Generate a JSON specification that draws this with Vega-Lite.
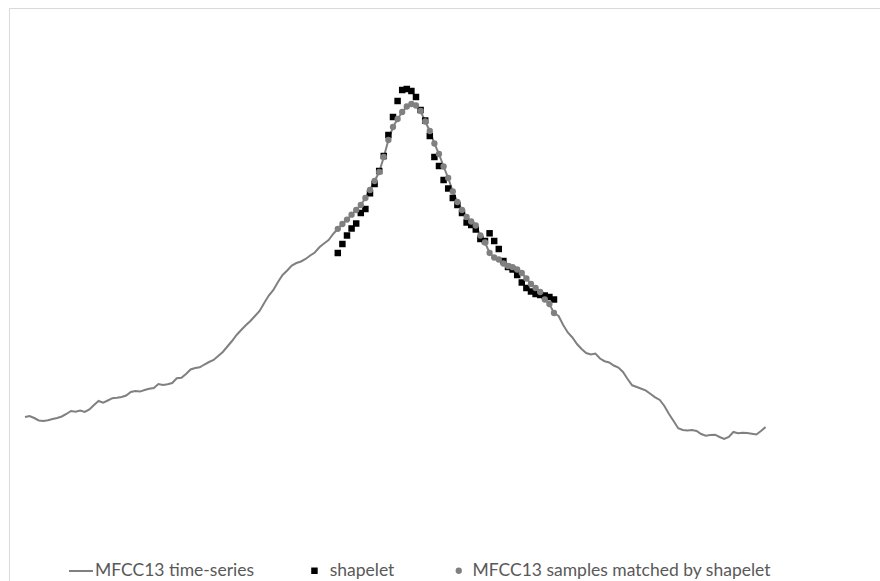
{
  "$schema": "https://vega.github.io/schema/vega-lite/v6.json",
  "width": 880,
  "height": 580,
  "autosize": {"type": "none"},
  "padding": {"left": 9, "top": 8, "right": 0, "bottom": 0},
  "background": "white",
  "config": {
    "view": {"stroke": "#d9d9d9", "strokeWidth": 1},
    "legend": {"labelFont": "Lato", "labelFontSize": 17.5, "labelColor": "#595959", "padding": 0, "offset": 0, "orient": "none", "direction": "horizontal", "labelLimit": 400}
  },
  "datasets": {
    "series": [
      {"t":0,"v":2.3},{"t":1,"v":2.4},{"t":2,"v":2.2},{"t":3,"v":1.95},{"t":4,"v":1.9},{"t":5,"v":1.98},{"t":6,"v":2.1},{"t":7,"v":2.2},{"t":8,"v":2.35},{"t":9,"v":2.6},
      {"t":10,"v":2.9},{"t":11,"v":2.83},{"t":12,"v":2.95},{"t":13,"v":2.8},{"t":14,"v":3.05},{"t":15,"v":3.5},{"t":16,"v":3.9},{"t":17,"v":3.73},{"t":18,"v":3.95},{"t":19,"v":4.18},
      {"t":20,"v":4.22},{"t":21,"v":4.3},{"t":22,"v":4.45},{"t":23,"v":4.8},{"t":24,"v":4.9},{"t":25,"v":4.84},{"t":26,"v":5.0},{"t":27,"v":5.13},{"t":28,"v":5.2},{"t":29,"v":5.6},
      {"t":30,"v":5.5},{"t":31,"v":5.58},{"t":32,"v":5.7},{"t":33,"v":6.17},{"t":34,"v":6.23},{"t":35,"v":6.6},{"t":36,"v":7.05},{"t":37,"v":7.2},{"t":38,"v":7.27},{"t":39,"v":7.55},
      {"t":40,"v":7.8},{"t":41,"v":8.0},{"t":42,"v":8.4},{"t":43,"v":8.8},{"t":44,"v":9.35},{"t":45,"v":9.9},{"t":46,"v":10.5},{"t":47,"v":11.0},{"t":48,"v":11.47},{"t":49,"v":11.9},
      {"t":50,"v":12.4},{"t":51,"v":12.9},{"t":52,"v":13.7},{"t":53,"v":14.45},{"t":54,"v":15.0},{"t":55,"v":15.8},{"t":56,"v":16.5},{"t":57,"v":16.95},{"t":58,"v":17.45},{"t":59,"v":17.7},
      {"t":60,"v":17.85},{"t":61,"v":18.1},{"t":62,"v":18.45},{"t":63,"v":18.75},{"t":64,"v":19.27},{"t":65,"v":19.65},{"t":66,"v":20.0},{"t":67,"v":20.6},
      {"t":68,"v":21.12},{"t":69,"v":21.6},{"t":70,"v":22.04},{"t":71,"v":22.53},{"t":72,"v":23.0},{"t":73,"v":23.5},{"t":74,"v":24.2},{"t":75,"v":25.0},{"t":76,"v":25.9},{"t":77,"v":26.8},
      {"t":78,"v":28.3},{"t":79,"v":30.0},{"t":80,"v":31.3},{"t":81,"v":32.1},{"t":82,"v":32.8},{"t":83,"v":33.35},{"t":84,"v":33.6},{"t":85,"v":33.45},{"t":86,"v":32.9},{"t":87,"v":31.85},
      {"t":88,"v":30.9},{"t":89,"v":29.65},{"t":90,"v":28.6},{"t":91,"v":27.35},{"t":92,"v":26.2},{"t":93,"v":24.85},{"t":94,"v":23.8},{"t":95,"v":23.0},{"t":96,"v":22.3},{"t":97,"v":21.85},
      {"t":98,"v":21.45},{"t":99,"v":20.45},{"t":100,"v":19.75},{"t":101,"v":18.7},{"t":102,"v":18.25},{"t":103,"v":18.05},{"t":104,"v":17.65},{"t":105,"v":17.4},{"t":106,"v":17.28},{"t":107,"v":17.05},
      {"t":108,"v":16.7},{"t":109,"v":16.15},{"t":110,"v":15.6},{"t":111,"v":15.2},{"t":112,"v":14.8},{"t":113,"v":14.05},{"t":114,"v":13.6},{"t":115,"v":12.7},
      {"t":116,"v":12.4},{"t":117,"v":11.5},{"t":118,"v":10.75},{"t":119,"v":10.25},{"t":120,"v":9.6},{"t":121,"v":9.1},{"t":122,"v":8.7},{"t":123,"v":8.55},{"t":124,"v":8.65},{"t":125,"v":8.15},
      {"t":126,"v":7.88},{"t":127,"v":7.75},{"t":128,"v":7.45},{"t":129,"v":7.25},{"t":130,"v":6.8},{"t":131,"v":6.1},{"t":132,"v":5.47},{"t":133,"v":5.3},{"t":134,"v":5.12},{"t":135,"v":4.93},
      {"t":136,"v":4.6},{"t":137,"v":4.26},{"t":138,"v":4.0},{"t":139,"v":3.4},{"t":140,"v":2.6},{"t":141,"v":1.9},{"t":142,"v":1.18},{"t":143,"v":1.0},{"t":144,"v":0.94},{"t":145,"v":1.0},
      {"t":146,"v":0.9},{"t":147,"v":0.6},{"t":148,"v":0.43},{"t":149,"v":0.5},{"t":150,"v":0.53},{"t":151,"v":0.3},{"t":152,"v":0.1},{"t":153,"v":0.3},{"t":154,"v":0.8},{"t":155,"v":0.67},
      {"t":156,"v":0.73},{"t":157,"v":0.7},{"t":158,"v":0.63},{"t":159,"v":0.55},{"t":160,"v":0.9},{"t":161,"v":1.3}
    ],
    "shapelet": [
      {"t":68,"v":18.7},{"t":69,"v":19.6},{"t":70,"v":20.45},{"t":71,"v":21.15},{"t":72,"v":21.65},{"t":73,"v":22.7},{"t":74,"v":23.1},{"t":75,"v":24.67},{"t":76,"v":25.6},{"t":77,"v":26.9},
      {"t":78,"v":28.4},{"t":79,"v":30.5},{"t":80,"v":32.3},{"t":81,"v":33.9},{"t":82,"v":35.0},{"t":83,"v":35.1},{"t":84,"v":34.9},{"t":85,"v":34.3},{"t":86,"v":33.0},{"t":87,"v":31.95},
      {"t":88,"v":30.4},{"t":89,"v":28.3},{"t":90,"v":27.4},{"t":91,"v":26.0},{"t":92,"v":25.15},{"t":93,"v":24.2},{"t":94,"v":23.5},{"t":95,"v":22.7},{"t":96,"v":21.75},{"t":97,"v":21.5},
      {"t":98,"v":21.05},{"t":99,"v":20.1},{"t":100,"v":19.9},{"t":101,"v":20.67},{"t":102,"v":19.9},{"t":103,"v":19.1},{"t":104,"v":17.9},{"t":105,"v":17.3},{"t":106,"v":17.05},{"t":107,"v":16.5},
      {"t":108,"v":15.75},{"t":109,"v":15.2},{"t":110,"v":14.85},{"t":111,"v":14.6},{"t":112,"v":14.5},{"t":113,"v":14.45},{"t":114,"v":14.3},{"t":115,"v":14.05}
    ],
    "matched": [
      {"t":68,"v":21.12},{"t":69,"v":21.6},{"t":70,"v":22.04},{"t":71,"v":22.53},{"t":72,"v":23.0},{"t":73,"v":23.5},{"t":74,"v":24.2},{"t":75,"v":25.0},{"t":76,"v":25.9},{"t":77,"v":26.8},
      {"t":78,"v":28.3},{"t":79,"v":30.0},{"t":80,"v":31.3},{"t":81,"v":32.1},{"t":82,"v":32.8},{"t":83,"v":33.35},{"t":84,"v":33.6},{"t":85,"v":33.45},{"t":86,"v":32.9},{"t":87,"v":31.85},
      {"t":88,"v":30.9},{"t":89,"v":29.65},{"t":90,"v":28.6},{"t":91,"v":27.35},{"t":92,"v":26.2},{"t":93,"v":24.85},{"t":94,"v":23.8},{"t":95,"v":23.0},{"t":96,"v":22.3},{"t":97,"v":21.85},
      {"t":98,"v":21.45},{"t":99,"v":20.45},{"t":100,"v":19.75},{"t":101,"v":18.7},{"t":102,"v":18.25},{"t":103,"v":18.05},{"t":104,"v":17.65},{"t":105,"v":17.4},{"t":106,"v":17.28},{"t":107,"v":17.05},
      {"t":108,"v":16.7},{"t":109,"v":16.15},{"t":110,"v":15.6},{"t":111,"v":15.2},{"t":112,"v":14.8},{"t":113,"v":14.05},{"t":114,"v":13.6},{"t":115,"v":12.7}
    ]
  },
  "encoding": {
    "x": {"field": "t", "type": "quantitative", "axis": null, "scale": {"domain": [-3.478, 187.83], "zero": false, "nice": false}},
    "y": {"field": "v", "type": "quantitative", "axis": null, "scale": {"domain": [-14.8, 43.2], "zero": false, "nice": false}}
  },
  "layer": [
    {
      "data": {"name": "series"},
      "mark": {"type": "line", "strokeWidth": 2, "interpolate": "linear"},
      "encoding": {
        "color": {"datum": "MFCC13 time-series", "type": "nominal", "scale": {"range": ["#808080"]},
          "legend": {"title": null, "legendX": 59, "legendY": 550, "symbolType": "stroke", "symbolSize": 576, "symbolStrokeWidth": 2, "labelOffset": 1}}
      }
    },
    {
      "data": {"name": "shapelet"},
      "mark": {"type": "point", "shape": "square", "filled": true, "size": 42, "opacity": 1},
      "encoding": {
        "color": {"datum": "shapelet", "type": "nominal", "scale": {"range": ["#000000"]},
          "legend": {"title": null, "legendX": 296.7, "legendY": 554, "symbolType": "square", "symbolSize": 42, "labelOffset": 6.5}}
      }
    },
    {
      "data": {"name": "matched"},
      "mark": {"type": "circle", "size": 40, "opacity": 1},
      "encoding": {
        "color": {"datum": "MFCC13 samples matched by shapelet", "type": "nominal", "scale": {"range": ["#808080"]},
          "legend": {"title": null, "legendX": 441, "legendY": 554, "symbolType": "circle", "symbolSize": 40, "labelOffset": 5}}
      }
    }
  ],
  "resolve": {"scale": {"color": "independent"}}
}
